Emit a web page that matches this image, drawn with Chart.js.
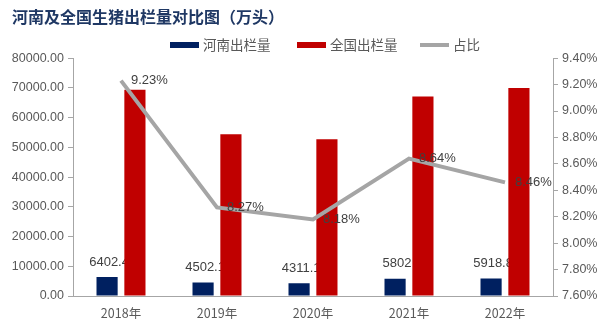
<!DOCTYPE html>
<html>
<head>
<meta charset="utf-8">
<script src="https://cdn.jsdelivr.net/npm/chart.js@4.4.1/dist/chart.umd.min.js"></script>
<style>
    html, body { margin: 0; padding: 0; background: #fff; }
    #wrap { width: 605px; height: 333px; position: relative; }
</style>
</head>
<body>
<div id="wrap"><canvas id="pigChart"></canvas></div>
<script>
const years = ['2018年', '2019年', '2020年', '2021年', '2022年'];
const henanOut = [6402.4, 4502.1, 4311.1, 5802, 5918.8];
const nationOut = [69382, 54419, 52704, 67128, 69995];
const shareRatio = [9.23, 8.27, 8.18, 8.64, 8.46];
const henanLabels = ['6402.4', '4502.1', '4311.1', '5802', '5918.8'];

const labelFont = '13px "Liberation Sans", Arial, sans-serif';
const cjk = '"Noto Sans CJK SC", "Liberation Sans", sans-serif';

// data labels: Henan values go under the red bars, ratios go on top of everything
const dataLabels = {
    id: 'dataLabels',
    beforeDatasetsDraw(chart) {
        const ctx = chart.ctx;
        const meta = chart.getDatasetMeta(0);
        ctx.save();
        ctx.font = labelFont;
        ctx.fillStyle = '#404040';
        ctx.textAlign = 'center';
        ctx.textBaseline = 'middle';
        meta.data.forEach((bar, i) => {
            ctx.fillText(henanLabels[i], bar.x + 2, bar.y - 15);
        });
        ctx.restore();
    },
    afterDatasetsDraw(chart) {
        const ctx = chart.ctx;
        const meta = chart.getDatasetMeta(2);
        ctx.save();
        ctx.font = labelFont;
        ctx.fillStyle = '#404040';
        ctx.textAlign = 'left';
        ctx.textBaseline = 'middle';
        meta.data.forEach((pt, i) => {
            ctx.fillText(shareRatio[i].toFixed(2) + '%', pt.x + 10, pt.y);
        });
        ctx.restore();
    }
};

// legend drawn by hand so spacing matches the source
const topLegend = {
    id: 'topLegend',
    afterDraw(chart) {
        const ctx = chart.ctx;
        const items = [
            { x: 170, text: '河南出栏量', color: '#002060', h: 6 },
            { x: 297, text: '全国出栏量', color: '#C00000', h: 6 },
            { x: 420, text: '占比', color: '#A5A5A5', h: 4 }
        ];
        const y = 45;
        ctx.save();
        ctx.font = '13.5px ' + cjk;
        ctx.textBaseline = 'middle';
        ctx.textAlign = 'left';
        items.forEach(it => {
            ctx.fillStyle = it.color;
            ctx.fillRect(it.x, y - it.h / 2, 29, it.h);
            ctx.fillStyle = '#595959';
            ctx.fillText(it.text, it.x + 33, y);
        });
        ctx.restore();
    }
};

const titleShift = {
    id: 'titleShift',
    afterLayout(chart) {
        chart.titleBlock.left += 12;
        chart.titleBlock.right += 12;
    }
};

new Chart(document.getElementById('pigChart'), {
    type: 'bar',
    data: {
        labels: years,
        datasets: [{
            label: '河南出栏量',
            data: henanOut,
            backgroundColor: '#002060',
            borderColor: '#002060',
            yAxisID: 'y',
            order: 2,
            categoryPercentage: 0.58,
            barPercentage: 0.76
        }, {
            label: '全国出栏量',
            data: nationOut,
            backgroundColor: '#C00000',
            borderColor: '#C00000',
            yAxisID: 'y',
            order: 2,
            categoryPercentage: 0.58,
            barPercentage: 0.76
        }, {
            type: 'line',
            label: '占比',
            data: shareRatio,
            borderColor: '#A5A5A5',
            backgroundColor: '#A5A5A5',
            borderWidth: 4,
            pointRadius: 0,
            tension: 0,
            yAxisID: 'y1',
            order: 1
        }]
    },
    options: {
        responsive: true,
        maintainAspectRatio: false,
        animation: false,
        layout: { padding: 0 },
        plugins: {
            title: {
                display: true,
                text: '河南及全国生猪出栏量对比图（万头）',
                align: 'start',
                color: '#1F3864',
                font: { family: cjk, size: 16, weight: 'bold' },
                padding: { top: 7, bottom: 32 }
            },
            legend: { display: false },
            tooltip: { enabled: false }
        },
        scales: {
            x: {
                grid: { display: false },
                border: { color: '#A6A6A6' },
                ticks: { color: '#595959', font: { family: cjk, size: 12.5 }, padding: 2 },
                afterFit(scale) { scale.height = 37; }
            },
            y: {
                position: 'left',
                min: 0,
                max: 80000,
                grid: { drawOnChartArea: false, tickLength: 5, tickColor: '#A6A6A6' },
                border: { color: '#A6A6A6' },
                ticks: {
                    stepSize: 10000,
                    color: '#595959',
                    font: { family: '"Liberation Sans", Arial, sans-serif', size: 12.5 },
                    padding: 4,
                    callback: v => v.toFixed(2)
                },
                afterFit(scale) { scale.width = 73; }
            },
            y1: {
                position: 'right',
                min: 7.6,
                max: 9.4,
                grid: { drawOnChartArea: false, tickLength: 5, tickColor: '#A6A6A6' },
                border: { color: '#A6A6A6' },
                ticks: {
                    stepSize: 0.2,
                    color: '#595959',
                    font: { family: '"Liberation Sans", Arial, sans-serif', size: 12.5 },
                    padding: 4,
                    callback: v => v.toFixed(2) + '%'
                },
                afterFit(scale) { scale.width = 52; }
            }
        }
    },
    plugins: [dataLabels, topLegend, titleShift]
});
</script>
</body>
</html>
